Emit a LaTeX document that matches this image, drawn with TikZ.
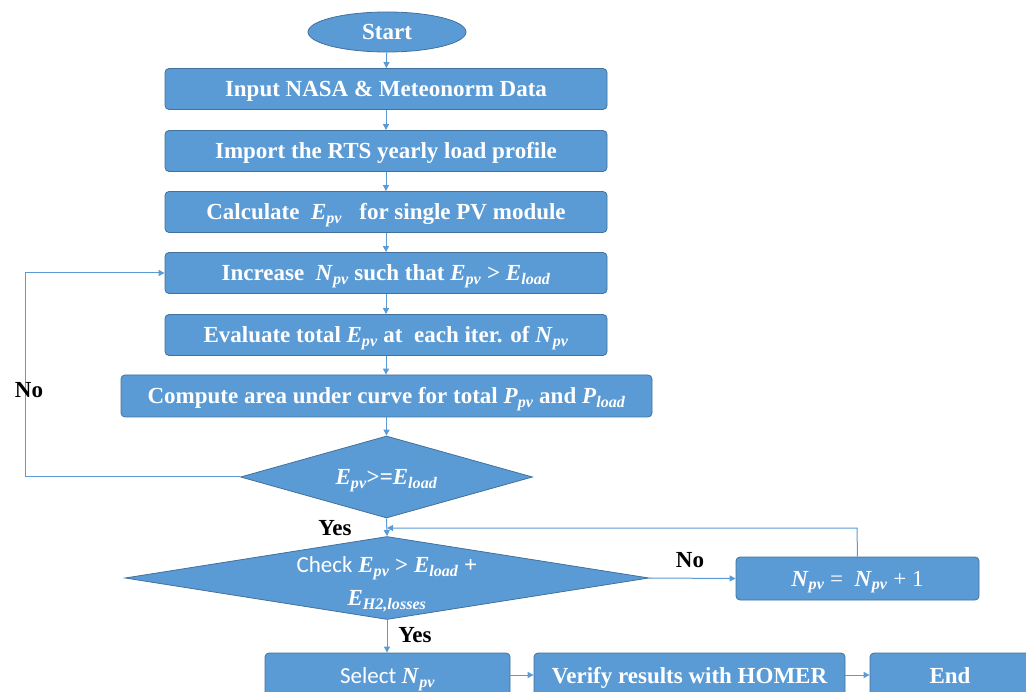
\documentclass[tikz,border=0pt]{standalone}
\usepackage{fontspec}
\usepackage{amsmath}
\setmainfont{Liberation Serif}
\newfontfamily\calfont{Carlito}
\usetikzlibrary{shapes.geometric,arrows.meta}
\definecolor{fillb}{HTML}{5B9BD5}
\definecolor{edgeb}{HTML}{41719C}
\newcommand\mv[2]{\textbf{\textit{#1}}$_{\text{\bfseries\itshape #2}}$}
\begin{document}
\begin{tikzpicture}[x=1pt,y=-1pt,
  box/.style={draw=edgeb, fill=fillb, rounded corners=4pt, line width=0.8pt, text=white,
    font=\fontsize{23}{26}\selectfont\bfseries, inner sep=0pt, text height=15pt, text depth=0pt},
  dia/.style={draw=edgeb, fill=fillb, diamond, line width=0.8pt, inner sep=0pt},
  txt/.style={text=white, font=\fontsize{23}{33}\selectfont\bfseries, align=center},
  lbl/.style={text=black, font=\fontsize{23}{26}\selectfont\bfseries},
  arr/.style={draw=fillb, line width=1pt, -{Triangle[length=6pt,width=6pt]}}]
\useasboundingbox (0,0) rectangle (1026,692);

\node[box, ellipse, rounded corners=0pt, minimum width=158pt, minimum height=40pt] (start) at (387,32) {Start};
\node[box, minimum width=442pt, minimum height=41pt] (b1) at (386,89) {Input NASA \& Meteonorm Data};
\node[box, minimum width=442pt, minimum height=41pt] (b2) at (386,151) {Import the RTS yearly load profile};
\node[box, minimum width=442pt, minimum height=41pt] (b3) at (386,212) {Calculate\ \ \mv{E}{pv}\ \ \ for single PV module};
\node[box, minimum width=442pt, minimum height=41pt] (b4) at (386,273) {Increase\ \ \mv{N}{pv} such that \mv{E}{pv} > \mv{E}{load}};
\node[box, minimum width=442pt, minimum height=41pt] (b5) at (386,335) {Evaluate total \mv{E}{pv} at\ \ each iter. of \mv{N}{pv}};
\node[box, minimum width=531pt, minimum height=42pt] (b6) at (386.5,396) {Compute area under curve for total \mv{P}{pv} and \mv{P}{load}};

\node[dia, minimum width=292pt, minimum height=82pt] (d1) at (386.5,477) {};
\node[txt] (d1t) at (386.5,481) {\mv{E}{pv}>=\mv{E}{load}};

\node[dia, minimum width=524pt, minimum height=83pt] (d2) at (387,578) {};
\node[txt] (d2t) at (387,584) {{\calfont\mdseries Check} \mv{E}{pv} > \mv{E}{load} +\\ \mv{E}{H2,losses}};

\node[box, minimum width=243pt, minimum height=43pt] (b7) at (857.5,578.5) {\mv{N}{pv}\ {\mdseries =}\ \ \mv{N}{pv}\ {\mdseries +\ 1}};

\node[box, minimum width=245pt, minimum height=46pt] (b8) at (387.5,676) {{\calfont\mdseries Select} \mv{N}{pv}};
\node[box, minimum width=311pt, minimum height=46pt] (b9) at (689.5,676) {Verify results with HOMER};
\node[box, minimum width=160pt, minimum height=46pt] (b10) at (950,676) {End};

\draw[arr] (start) -- (b1);
\draw[arr] (b1) -- (b2);
\draw[arr] (b2) -- (b3);
\draw[arr] (b3) -- (b4);
\draw[arr] (b4) -- (b5);
\draw[arr] (b5) -- (b6.north -| b5.south);
\draw[arr] (b6.south -| d1.north) -- (d1.north);
\draw[arr] (d1.west) -- (25,477) -- (25,273) -- (b4.west);
\draw[arr] (d1.south) -- (d2.north);
\draw[arr] (d2.east) -- (b7.west);
\coordinate (j) at (387,528);
\draw[arr] (b7.north) -- (857,528) -- (j);
\draw[arr] (d2.south) -- (b8.north -| d2.south);
\draw[arr] (b8.east |- 0,675) -- (b9.west |- 0,675);
\draw[arr] (b9.east |- 0,675) -- (b10.west |- 0,675);

\node[lbl] (no1) at (29,390) {No};
\node[lbl] (yes1) at (335,528) {Yes};
\node[lbl] (no2) at (690,560) {No};
\node[lbl] (yes2) at (415,635) {Yes};
\end{tikzpicture}
\end{document}
